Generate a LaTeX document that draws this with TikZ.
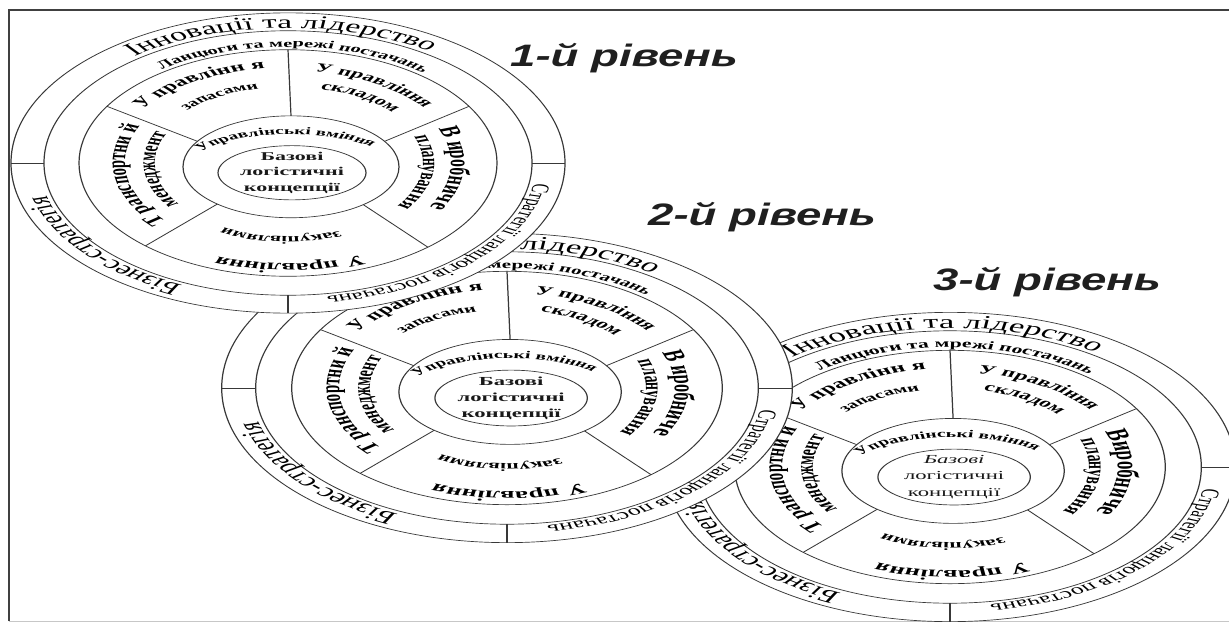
\documentclass[tikz,border=0pt]{standalone}
\usepackage{fontspec}
\setmainfont{Liberation Serif}
\newfontfamily\titlefont{Liberation Sans}
\usetikzlibrary{decorations.text}
\newcommand{\wfs}[1]{\fontsize{#1}{#1}\selectfont}
\newdimen\twid
% measure the natural width of text #2 in style #1 at 10pt (inside an empty node, where fonts work)
\newcommand{\measure}[2]{%
  \node[inner sep=0pt, outer sep=0pt] (mz) at (0,0) {\setbox0=\hbox{#1\fontsize{10}{10}\selectfont #2}\global\twid=\wd0\relax};}
% text on a circle arc read clockwise, sized to fill it: #1 style, #2 radius, #3 start angle, #4 end angle, #5 text
\newcommand{\fittext}[5]{%
  \measure{#1}{#5}%
  \pgfmathsetmacro\fsz{10*(#3-#4)*pi/180*#2/\the\twid}%
  \pgfmathsetmacro\amid{(#3+#4)/2}%
  \path[decorate, decoration={text along path, text align=center,
        text={|#1\fontsize{\fsz}{\fsz}\selectfont|#5}}]
    ({\amid+89}:#2) arc[start angle={\amid+89}, end angle={\amid-89}, radius=#2];}
% same size and end as \fittext, but only the visible tail #6 of text #5 is set
\newcommand{\fittail}[6]{%
  \measure{#1}{#5}%
  \pgfmathsetmacro\fsz{10*(#3-#4)*pi/180*#2/\the\twid}%
  \path[decorate, decoration={text along path, text align=right,
        text={|#1\fontsize{\fsz}{\fsz}\selectfont|#6}}]
    ({#4+170}:#2) arc[start angle={#4+170}, end angle={#4}, radius=#2];}
% text on an ellipse arc centred at (3,-7)
\newcommand{\elltext}[6]{%
  \path[decorate, decoration={text along path, text align=center, text={|#1|#6}}]
    ([shift={(3,-7)}]{#4+#5}:#2 and #3) arc[start angle={#4+#5}, end angle={#4-#5}, x radius=#2, y radius=#3];}
\tikzset{
  ring/.style={line width=1.2pt, draw=black!78},
  frame/.style={line width=1.3pt, draw=black!75},
  framelight/.style={line width=1pt, draw=black!22},
  ttl/.style={font=\titlefont\bfseries\itshape\fontsize{31}{31}\selectfont, inner sep=0pt, text=black!88},
}
% #1 name, #2 x, #3 y, #4 scale, #5 top ring texts, #6 right sector word, #7 centre font, #8 centre text
\newcommand{\drawwheel}[8]{%
 \begin{scope}[transform canvas={shift={(#2,#3)}, scale=#4, yscale=0.542}, text=black!90]
  \fill[white] (0,0) circle[radius=277];
  \draw[ring] (0,0) circle[radius=277];
  \draw[ring] (0,0) circle[radius=244];
  \draw[ring] (0,0) circle[radius=209];
  \draw[ring] (3,-7) ellipse[x radius=108, y radius=94];
  \draw[ring] (4,-18) ellipse[x radius=74, y radius=50];
  \draw[ring] (180:244) -- (180:277);
  \draw[ring] (0:244) -- (0:277);
  \draw[ring] (270:244) -- (270:277);
  \foreach \a in {30,90,150,227,312}
    \draw[ring] (\a:209) -- ([shift={(3,-7)}]\a:108 and 94);
  #5
  \fittext{}{249}{351}{279}{Стратегії ланцюгів постачань}
  \fittext{}{249}{245}{194}{Бізнес-стратегія}
  \fittext{\bfseries}{176}{145}{97.5}{У правлінн я}
  \fittext{\bfseries}{140}{136}{102}{запасами}
  \fittext{\bfseries}{170}{81}{37}{У правління}
  \fittext{\bfseries}{140}{76.7}{42}{складом}
  \fittext{\bfseries}{163}{221.7}{155.3}{Т ранспортни й}
  \fittext{\bfseries}{133}{215}{155.5}{менеджмент}
  \fittext{\bfseries}{163}{23}{-30}{#6}
  \fittext{\bfseries}{135}{21}{-36}{планування}
  \fittext{\bfseries}{186}{293}{248}{У правління}
  \fittext{\bfseries}{136}{292}{242}{закупівлями}
  \elltext{\bfseries\wfs{19}}{100}{60}{96}{85}{Управлінські вміння}
  \node[align=center, inner sep=0pt, font=#7] (#1c) at (4,-18) {#8};
 \end{scope}}

\begin{document}
\begin{tikzpicture}[x=1pt, y=1pt]
\useasboundingbox (0,0) rectangle (1229,-623);
\fill[white] (0,0) rectangle (1229,-623);
\coordinate (fTL) at (9,-10);
\coordinate (fTR) at (1240,-10);
\coordinate (fBL) at (9,-621);
\coordinate (fBR) at (1240,-621);
\draw[framelight] (fBL) -- (fBR);
\draw[frame] (fBL) -- (fTL) -- (fTR);

\drawwheel{w3}{950}{-467}{1.03}{%
  \fittext{}{249}{128}{55.5}{Інновації та лідерство}%
  \fittext{\bfseries}{214}{126}{51}{Ланцюги та мрежі постачань}}%
  {Виробниче}{\fontsize{22}{29}\selectfont}{{\itshape Базові}\\логістичні\\концепції}
\drawwheel{w2}{507}{-388}{1.03}{%
  \fittail{}{249}{128}{55.5}{Інновації та лідерство}{лідерство}%
  \fittail{\bfseries}{214}{126}{51}{Ланцюги та мережі постачань}{мережі постачань}}%
  {В иробниче}{\bfseries\fontsize{22}{29}\selectfont}{Базові\\логістичні\\концепції}
\drawwheel{w1}{288}{-163}{1}{%
  \fittext{}{249}{128}{55.5}{Інновації та лідерство}%
  \fittext{\bfseries}{214}{126}{51}{Ланцюги та мережі постачань}}%
  {В иробниче}{\bfseries\fontsize{22}{29}\selectfont}{Базові\\логістичні\\концепції}

\node[ttl, anchor=base west] (t1) at (510,-67) {\scalebox{1.47}[1]{1-й рівень}};
\node[ttl, anchor=base west] (t2) at (648,-225) {\scalebox{1.47}[1]{2-й рівень}};
\node[ttl, anchor=base west] (t3) at (933,-290) {\scalebox{1.47}[1]{3-й рівень}};
\end{tikzpicture}
\end{document}
